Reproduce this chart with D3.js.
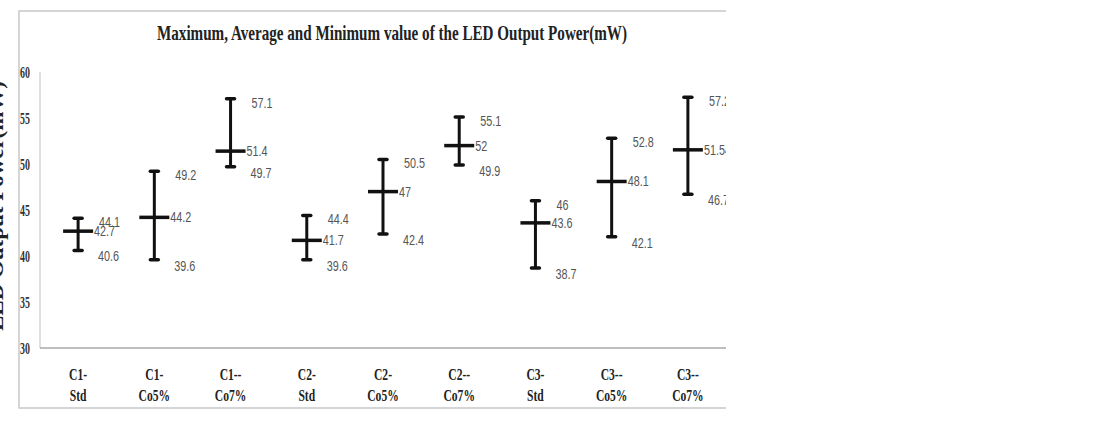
<!DOCTYPE html>
<html>
<head>
<meta charset="utf-8">
<script src="https://cdn.jsdelivr.net/npm/d3@7"></script>
<style>
  body { margin: 0; background: #fff; }
  svg { display: block; }
</style>
</head>
<body>
<svg id="chart" width="1098" height="424"></svg>
<script>
// chart data
const categories = [["C1-", "Std"], ["C1-", "Co5%"], ["C1--", "Co7%"], ["C2-", "Std"], ["C2-", "Co5%"], ["C2--", "Co7%"], ["C3-", "Std"], ["C3--", "Co5%"], ["C3--", "Co7%"]];
const maxValues = [44.1, 49.2, 57.1, 44.4, 50.5, 55.1, 46, 52.8, 57.25];
const avgValues = [42.7, 44.2, 51.4, 41.7, 47, 52, 43.6, 48.1, 51.54];
const minValues = [40.6, 39.6, 49.7, 39.6, 42.4, 49.9, 38.7, 42.1, 46.7];
const yTicks = [30, 35, 40, 45, 50, 55, 60];

const svg = d3.select("#chart");
const W = 726, plotLeft = 40, plotTop = 72, plotBottom = 348;

// squeeze a text horizontally, like the narrow fonts of the original
function squeeze(sel, k) {
  sel.each(function () {
    d3.select(this).attr("textLength", this.getComputedTextLength() * k).attr("lengthAdjust", "spacingAndGlyphs");
  });
}

svg.append("defs").append("clipPath").attr("id", "frameClip")
   .append("rect").attr("x", 0).attr("y", 0).attr("width", W).attr("height", 424);
const g = svg.append("g").attr("clip-path", "url(#frameClip)");

// outer frame (right edge is cropped in the original)
g.append("path").attr("d", `M${W},11H19V408H${W}`).attr("fill", "none").attr("stroke", "#c8c8c8").attr("stroke-width", 1.5);

const x = d3.scaleBand().domain(d3.range(categories.length)).range([plotLeft, W]);
const y = d3.scaleLinear().domain([30, 60]).range([plotBottom, plotTop]);

// axes
g.append("line").attr("x1", plotLeft).attr("x2", plotLeft).attr("y1", plotTop).attr("y2", plotBottom).attr("stroke", "#d4d4d4").attr("stroke-width", 1.5);
g.append("line").attr("x1", plotLeft).attr("x2", W).attr("y1", plotBottom).attr("y2", plotBottom).attr("stroke", "#a8a8a8").attr("stroke-width", 1.5);

const yAxis = g.append("g").attr("transform", `translate(${plotLeft},0)`)
  .call(d3.axisLeft(y).tickValues(yTicks).tickSize(0).tickPadding(10));
yAxis.select(".domain").remove();
yAxis.selectAll("text").attr("font-family", "'Liberation Serif', serif").attr("font-weight", "bold")
  .attr("font-size", 16).attr("fill", "#333").call(squeeze, 0.62);

// category labels
const cat = g.append("g").selectAll("text").data(categories).join("text")
  .attr("x", (d, i) => x(i) + x.bandwidth() / 2).attr("y", 380)
  .attr("text-anchor", "middle").attr("font-family", "'Liberation Serif', serif")
  .attr("font-weight", "bold").attr("font-size", 17).attr("fill", "#222");
cat.append("tspan").attr("x", (d, i) => x(i) + x.bandwidth() / 2).text(d => d[0]);
cat.append("tspan").attr("x", (d, i) => x(i) + x.bandwidth() / 2).attr("dy", 21).text(d => d[1]);
cat.selectAll("tspan").call(squeeze, 0.68);

// title
g.append("text").attr("x", 392).attr("y", 40).attr("text-anchor", "middle")
  .attr("font-family", "'Liberation Serif', serif").attr("font-weight", "bold").attr("font-size", 21)
  .attr("fill", "#222").attr("textLength", 470).attr("lengthAdjust", "spacingAndGlyphs")
  .text("Maximum, Average and Minimum value of the LED Output Power(mW)");

// y axis title (partly cut off at the left edge)
svg.append("text").attr("transform", "translate(3,206) rotate(-90)").attr("text-anchor", "middle")
  .attr("font-family", "'Liberation Serif', serif").attr("font-weight", "bold").attr("font-size", 20)
  .attr("fill", "#222").attr("textLength", 250).attr("lengthAdjust", "spacingAndGlyphs")
  .text("LED Output Power(mW)");

// error bars
const bars = g.append("g").selectAll("g").data(categories.map((c, i) => i)).join("g")
  .attr("transform", i => `translate(${x(i) + x.bandwidth() / 2},0)`);
bars.append("line").attr("y1", i => y(maxValues[i])).attr("y2", i => y(minValues[i]))
  .attr("stroke", "#111").attr("stroke-width", 3);
bars.append("line").attr("x1", -4).attr("x2", 4).attr("y1", i => y(maxValues[i])).attr("y2", i => y(maxValues[i]))
  .attr("stroke", "#111").attr("stroke-width", 3.5).attr("stroke-linecap", "round");
bars.append("line").attr("x1", -4).attr("x2", 4).attr("y1", i => y(minValues[i])).attr("y2", i => y(minValues[i]))
  .attr("stroke", "#111").attr("stroke-width", 3.5).attr("stroke-linecap", "round");
bars.append("line").attr("x1", -15).attr("x2", 15).attr("y1", i => y(avgValues[i])).attr("y2", i => y(avgValues[i]))
  .attr("stroke", "#111").attr("stroke-width", 3.5);

// value labels
function valueLabel(vals, dx, dy) {
  bars.append("text").attr("x", dx).attr("y", i => y(vals[i]) + dy)
    .attr("dominant-baseline", "middle")
    .attr("font-family", "'Liberation Sans', Arial, sans-serif")
    .attr("font-size", 15).attr("fill", "#555")
    .text(i => String(vals[i]))
    .call(squeeze, 0.72);
}
valueLabel(maxValues, 21, 5);
valueLabel(avgValues, 16, 1);
valueLabel(minValues, 20, 7);
</script>
</body>
</html>
